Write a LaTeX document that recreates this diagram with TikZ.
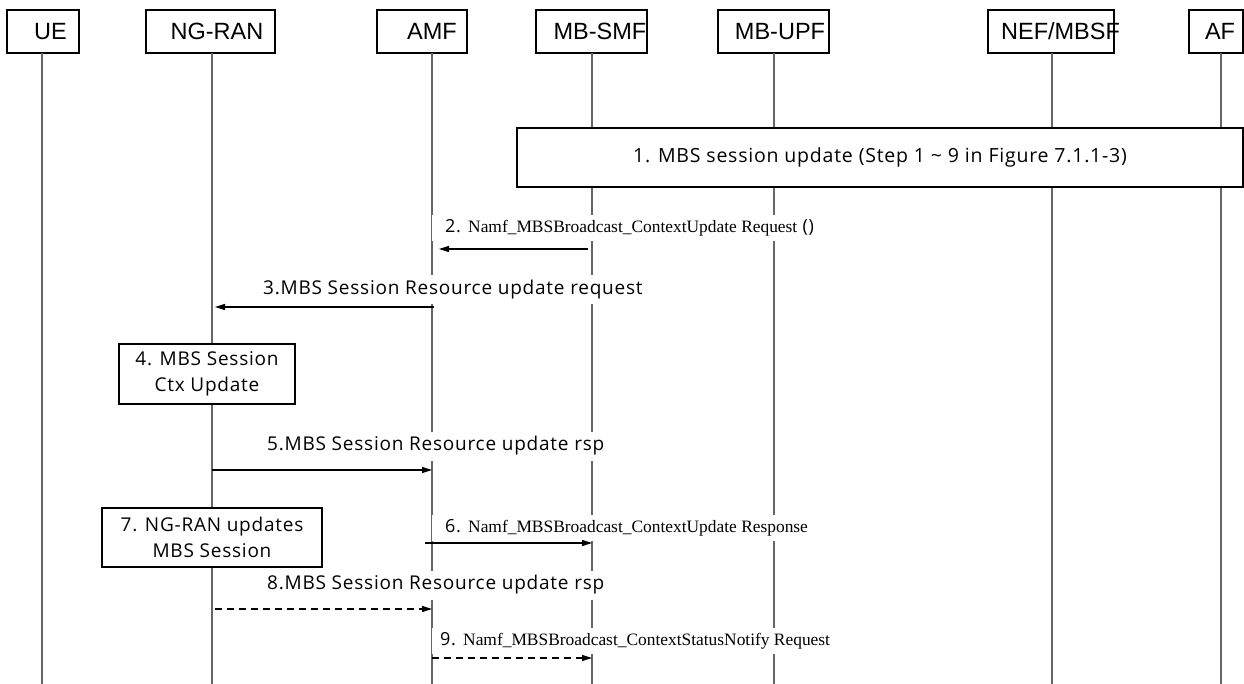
\documentclass[tikz,border=0pt]{standalone}
\usepackage{fontspec}
\setmainfont{Liberation Serif}
\newfontfamily\hdrfont{Liberation Sans}
\newfontfamily\lblfont{Open Sans}[LetterSpace=4]
\newfontfamily\srffont{Liberation Serif}
\newcommand{\srf}{\srffont\fontsize{17.4}{22}\selectfont}
\usetikzlibrary{arrows.meta}
\tikzset{
  hdr/.style={draw=black, line width=1.2pt, minimum height=43pt, inner sep=0pt},
  hdrtext/.style={font=\hdrfont\fontsize{23.5}{28}\selectfont, inner sep=0pt},
  life/.style={draw=black!60, line width=1.3pt},
  procbox/.style={draw=black, line width=1.2pt, fill=white, inner sep=0pt, align=center, font=\lblfont\fontsize{19}{26}\selectfont},
  msg/.style={draw=black, line width=1.2pt, -{Triangle[length=10pt,width=6pt]}},
  dmsg/.style={msg, dash pattern=on 7pt off 5pt},
  sanslab/.style={fill=white, anchor=west, inner xsep=4pt, inner ysep=5pt, font=\lblfont\fontsize{19}{23}\selectfont},
  mixlab/.style={fill=white, anchor=west, inner xsep=13pt, inner ysep=5pt, font=\lblfont\fontsize{18}{23}\selectfont},
}
\begin{document}
\begin{tikzpicture}[x=1pt, y=-1pt]
\useasboundingbox (0,0) rectangle (1244,684);
% header boxes
\node[hdr, minimum width=72pt,  label={[hdrtext, xshift=7.5pt]center:UE}]       (ue)  at (43,31.5) {};
\node[hdr, minimum width=129pt, label={[hdrtext, xshift=6.5pt]center:NG-RAN}]   (ran) at (210.5,31.5) {};
\node[hdr, minimum width=90pt,  label={[hdrtext, xshift=10pt]center:AMF}]       (amf) at (422,31.5) {};
\node[hdr, minimum width=111pt, label={[hdrtext, xshift=8.5pt]center:MB-SMF}]   (smf) at (591.5,31.5) {};
\node[hdr, minimum width=111pt, label={[hdrtext, xshift=6.5pt]center:MB-UPF}]   (upf) at (773.5,31.5) {};
\node[hdr, minimum width=126pt, label={[hdrtext, xshift=9.5pt]center:NEF/MBSF}] (nef) at (1051,31.5) {};
\node[hdr, minimum width=54pt,  label={[hdrtext, xshift=4pt]center:AF}]         (af)  at (1216,31.5) {};
% lifeline ends
\coordinate (ueT) at (42,53);    \coordinate (ueB) at (42,684);
\coordinate (ranT) at (212,53);  \coordinate (ranB) at (212,684);
\coordinate (amfT) at (432,53);  \coordinate (amfB) at (432,684);
\coordinate (smfT) at (592,53);  \coordinate (smfB) at (592,684);
\coordinate (upfT) at (774,53);  \coordinate (upfB) at (774,684);
\coordinate (nefT) at (1052,53); \coordinate (nefB) at (1052,684);
\coordinate (afT) at (1221,53);  \coordinate (afB) at (1221,684);
\foreach \n in {ue,ran,amf,smf,upf,nef,af} \draw[life] (\n T) -- (\n B);
% process boxes
\node[procbox, minimum width=726pt, minimum height=59pt, font=\lblfont\fontsize{19.5}{26}\selectfont] (s1) at (880,157.5)
  {1. MBS session update (Step 1 \textasciitilde{} 9 in Figure 7.1.1-3)};
\node[procbox, minimum width=176pt, minimum height=60pt] (s4) at (207,374) {4. MBS Session\\Ctx Update};
\node[procbox, minimum width=220pt, minimum height=59pt] (s7) at (212,537.5) {7. NG-RAN updates\\MBS Session};
% message labels
\node[mixlab]  (l2) at (432,228) {2. {\srf Namf\_MBSBroadcast\_ContextUpdate Request} ()};
\node[sanslab] (l3) at (259,290) {3.MBS Session Resource update request};
\node[sanslab] (l5) at (263,446) {5.MBS Session Resource update rsp};
\node[mixlab]  (l6) at (432,528) {6. {\srf Namf\_MBSBroadcast\_ContextUpdate Response}};
\node[sanslab] (l8) at (263,585) {8.MBS Session Resource update rsp};
\node[mixlab, inner xsep=8pt] (l9) at (432,641) {9. {\srf Namf\_MBSBroadcast\_ContextStatusNotify Request}};
% message end points
\coordinate (m2a) at (588,249); \coordinate (m2b) at (439,249);
\coordinate (m3a) at (434,307); \coordinate (m3b) at (215,307);
\coordinate (m5a) at (212,470); \coordinate (m5b) at (432,470);
\coordinate (m6a) at (425,543); \coordinate (m6b) at (592,543);
\coordinate (m8a) at (215,609); \coordinate (m8b) at (432,609);
\coordinate (m9a) at (432,658); \coordinate (m9b) at (592,658);
\draw[msg]  (m2a) -- (m2b);
\draw[msg]  (m3a) -- (m3b);
\draw[msg]  (m5a) -- (m5b);
\draw[msg]  (m6a) -- (m6b);
\draw[dmsg] (m8a) -- (m8b);
\draw[dmsg] (m9a) -- (m9b);
\end{tikzpicture}
\end{document}
